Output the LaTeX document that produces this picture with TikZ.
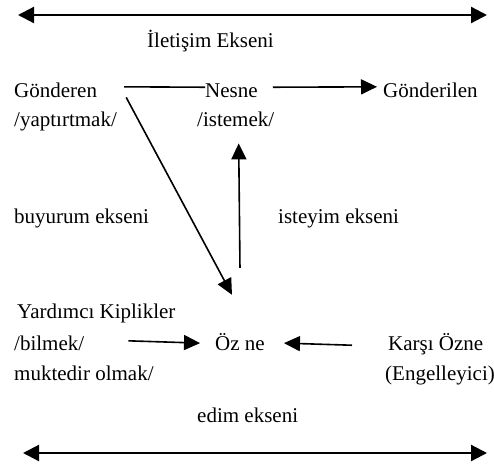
\documentclass[tikz,border=0pt]{standalone}
\usepackage{fontspec}
\setmainfont{Liberation Serif}
\usepackage{tikz}
\usetikzlibrary{arrows.meta}
\usetikzlibrary{positioning}

\begin{document}
\begin{tikzpicture}[x=1pt, y=-1pt, lbl/.style={inner sep=0pt, anchor=base west, font=\fontsize{21}{24}\selectfont}, plain/.style={line width=1.6pt}, arrow/.style={line width=1.6pt, -{Triangle[length=16pt, width=15pt]}}, axis/.style={line width=2.2pt, {Triangle[length=16pt, width=16pt]}-{Triangle[length=16pt, width=16pt]}}]
\useasboundingbox (0,0) rectangle (494,463);
\node (ILETISIM) [lbl] at (147,47) {İletişim Ekseni};
\node (GONDEREN) [lbl] at (14,97) {Gönderen};
\node (NESNE) [lbl] at (205,97) {Nesne};
\node (GONDERILEN) [lbl] at (383,97) {Gönderilen};
\node (YAPTIRTMAK) [lbl] at (14,126) {/yaptırtmak/};
\node (ISTEMEK) [lbl] at (197,126) {/istemek/};
\node (BUYURUM) [lbl] at (14,223) {buyurum ekseni};
\node (ISTEYIM) [lbl] at (278,223) {isteyim ekseni};
\node (YARDIMCI) [lbl] at (17,318) {Yardımcı Kiplikler};
\node (BILMEK) [lbl] at (14,350) {/bilmek/};
\node (OZNE) [lbl] at (215,350) {Öz ne};
\node (KARSI) [lbl] at (388,350) {Karşı Özne};
\node (MUKTEDIR) [lbl] at (14,380) {muktedir olmak/};
\node (ENGEL) [lbl] at (385,380) {(Engelleyici)};
\node (EDIM) [lbl] at (197,422) {edim ekseni};
\coordinate (ILETL) at (18,15);
\coordinate (ILETR) at (487,15);
\coordinate (EDIML) at (23,453);
\coordinate (EDIMR) at (487,453);
\draw [axis] (ILETL) -- (ILETR);
\draw [axis] (EDIML) -- (EDIMR);
\draw [plain] ([xshift=27pt, yshift=3pt]GONDEREN.east) -- ([yshift=3pt]NESNE.west);
\draw [arrow] ([xshift=15pt, yshift=3pt]NESNE.east) -- ([xshift=-6pt, yshift=3pt]GONDERILEN.west);
\draw [arrow] ([xshift=29pt]GONDEREN.south east) -- ([xshift=-8pt, yshift=38pt]OZNE.north);
\draw [arrow] ([yshift=65pt]OZNE.north) -- ([xshift=3pt, yshift=-17pt]ISTEMEK.south);
\draw [arrow] ([xshift=44pt, yshift=2pt]BILMEK.east) -- ([xshift=-15pt, yshift=-1.5pt]OZNE.west);
\draw [arrow] ([xshift=-36pt, yshift=-1.5pt]KARSI.west) -- ([xshift=19pt, yshift=-1.5pt]OZNE.east);
\end{tikzpicture}
\end{document}
